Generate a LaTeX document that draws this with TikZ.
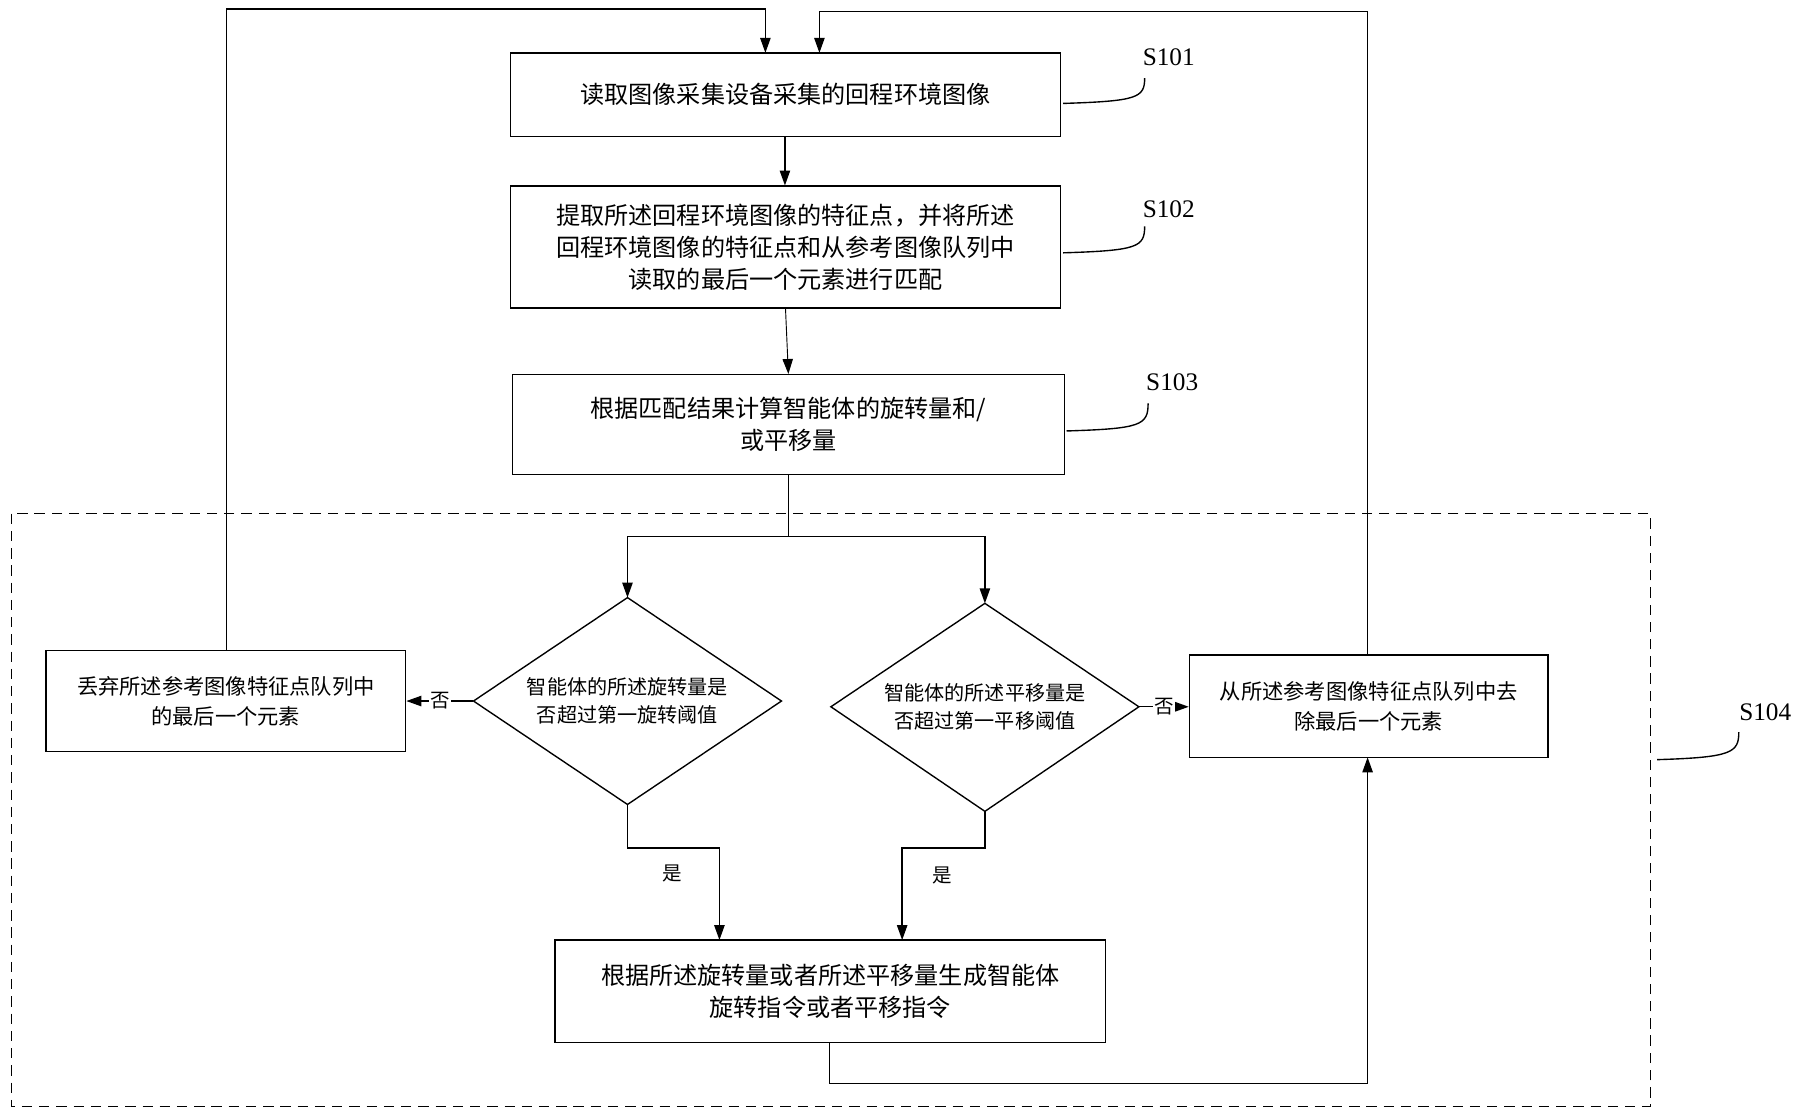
\documentclass[tikz,border=0pt]{standalone}
\usepackage{fontspec}
\setmainfont{Liberation Serif}
\newfontfamily\cjk{Noto Sans CJK SC}
\usetikzlibrary{arrows.meta}
\begin{document}
\begin{tikzpicture}[x=1pt,y=-1pt,every path/.style={line width=1.2pt},
 box/.style={draw,rectangle,align=center,font=\cjk\fontsize{21}{28}\selectfont,inner sep=0},
 dia/.style={align=center,font=\cjk\fontsize{17.5}{24}\selectfont},
 arr/.style={-{Triangle[length=13pt,width=9pt]}},
 lab/.style={font=\fontsize{22}{24}\selectfont},
 yn/.style={font=\cjk\fontsize{17}{19}\selectfont,fill=white,inner sep=1pt}]
\useasboundingbox (0,0) rectangle (1568,973);
\draw[dash pattern=on 9pt off 6pt] (10,447) rectangle (1436,963);
\node[box,minimum width=479,minimum height=73] (b1) at (683.5,82.5) {读取图像采集设备采集的回程环境图像};
\node[box,minimum width=479,minimum height=106] (b2) at (683.5,215) {提取所述回程环境图像的特征点，并将所述\\回程环境图像的特征点和从参考图像队列中\\读取的最后一个元素进行匹配};
\node[box,minimum width=480,minimum height=87] (b3) at (686,369.5) {根据匹配结果计算智能体的旋转量和/\\或平移量};
\draw (546,520) -- (680,610) -- (546,700) -- (412,610) -- cycle;
\node[dia] (d1) at (546,610) {智能体的所述旋转量是\\否超过第一旋转阈值};
\draw (857,525) -- (991,615) -- (857,706) -- (723,615) -- cycle;
\node[dia] (d2) at (857,615) {智能体的所述平移量是\\否超过第一平移阈值};
\node[box,minimum width=313,minimum height=88,font=\cjk\fontsize{18.5}{26}\selectfont] (bl) at (196.5,610) {丢弃所述参考图像特征点队列中\\的最后一个元素};
\node[box,minimum width=312,minimum height=89,font=\cjk\fontsize{18.5}{26}\selectfont] (br) at (1191,614.5) {从所述参考图像特征点队列中去\\除最后一个元素};
\node[box,minimum width=479,minimum height=89] (bb) at (722.5,862.5) {根据所述旋转量或者所述平移量生成智能体\\旋转指令或者平移指令};
\coordinate (d1t) at (546,520); \coordinate (d1b) at (546,700); \coordinate (d1l) at (412,610);
\coordinate (d2t) at (857,525); \coordinate (d2b) at (857,706); \coordinate (d2r) at (991,615);
\draw[arr] (683,119) -- (b2.north -| 683,0);
\draw[arr,line width=0.8pt] (b2.south) -- (b3.north);
\draw (b3.south) -- (686,467) coordinate (sp);
\draw[arr] (sp) -- (546,467) -- (d1t);
\draw[arr] (sp) -- (857,467) -- (d2t);
\draw[arr] (d1l) -- node[yn]{否} (bl.east |- d1l);
\draw[arr] (d2r) -- node[yn]{否} (br.west |- d2r);
\draw[arr] (d1b) -- (546,738) -- (626,738) -- (626,818);
\draw[arr] (d2b) -- (857,738) -- (785,738) -- (785,818);
\node[yn,fill=none] (y1) at (585,760) {是};
\node[yn,fill=none] (y2) at (820,762) {是};
\draw[arr] (722,907) -- (722,943) -- (1190,943) -- (1190,659);
\draw[arr] (1190,570) -- (1190,10) -- (713,10) -- (713,46);
\draw[arr] (197,566) -- (197,8) -- (666,8) -- (666,46);
\node[lab] (s1) at (1017,50) {S101};
\node[lab] (s2) at (1017,182) {S102};
\node[lab] (s3) at (1020,333) {S103};
\node[lab] (s4) at (1536,620) {S104};
\draw (925,90) .. controls (990,88) and (996,85) .. (996,68);
\draw (925,220) .. controls (990,218) and (996,215) .. (996,197);
\draw (928,375) .. controls (993,373) and (999,370) .. (999,351);
\draw (1442,661) .. controls (1507,659) and (1513,655) .. (1513,637);
\end{tikzpicture}
\end{document}
